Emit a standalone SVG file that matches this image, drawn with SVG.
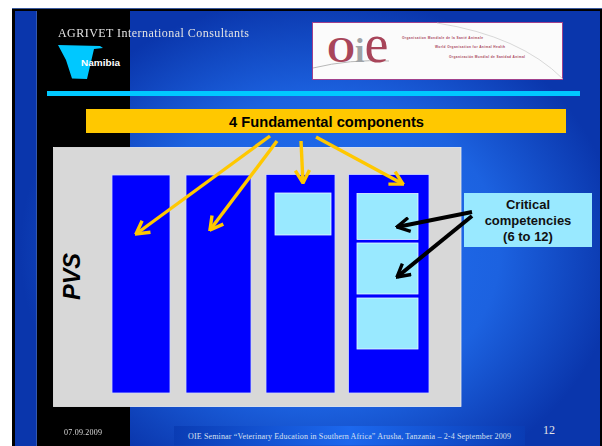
<svg xmlns="http://www.w3.org/2000/svg" width="602" height="446" viewBox="0 0 602 446">
<style>
.s{font-family:"Liberation Serif",serif}
.b{font-family:"Liberation Sans",Arial,sans-serif;font-weight:700}
.col{fill:#0000ff;stroke:#d0d8ff;stroke-width:.8}
.lt{fill:#99e9ff;stroke:#e8f8ff;stroke-width:.8}
.y{fill:none;stroke:#ffc800;stroke-width:3.4;marker-end:url(#ya)}
.k{fill:none;stroke:#000;stroke-width:4;marker-end:url(#ka)}
.o{font-family:"Liberation Sans",Arial,sans-serif;font-size:3.2px;fill:#a8455a;font-weight:700}
</style>
<defs>
<filter id="n" x="0" y="0" width="1" height="1"><feOffset dx="0" dy="0"/></filter>
<radialGradient id="bg" gradientUnits="userSpaceOnUse" cx="320" cy="250" r="300" gradientTransform="translate(320 250) scale(1 .85) translate(-320 -250)">
<stop offset="0" stop-color="#2272f6"/><stop offset=".6" stop-color="#1c62e0"/><stop offset="1" stop-color="#0a36ac"/>
</radialGradient>
<linearGradient id="fb" x1="0" x2="1" y1="0" y2="0">
<stop offset="0" stop-color="#0a3cb4"/><stop offset=".5" stop-color="#1c68ee"/><stop offset="1" stop-color="#0a3cb4"/>
</linearGradient>
<marker id="ya" viewBox="0 0 12 12" refX="11" refY="6" markerWidth="5" markerHeight="5" orient="auto"><path d="M2 1L11 6L2 11" fill="none" stroke="#ffc800" stroke-width="2.400"/></marker>
<marker id="ka" viewBox="0 0 12 12" refX="11" refY="6" markerWidth="4.200" markerHeight="4.200" orient="auto"><path d="M2 1L11 6L2 11" fill="none" stroke="#000" stroke-width="2.400"/></marker>
</defs>
<rect width="602" height="446" fill="#fff"/>
<rect x="12" y="8" width="590" height="438" fill="#000"/>
<rect x="12" y="8" width="590" height="1" fill="#3a5a9c"/>
<rect x="15" y="11" width="585" height="435" fill="url(#bg)"/>
<rect x="36.500" y="11" width="93.500" height="435" fill="#000"/>
<rect x="36" y="11" width="1" height="435" fill="#3358b0"/>

<g id="header">
<text class="s" x="58" y="37" font-size="12" fill="#e4e4e4" textLength="191" filter="url(#n)">AGRIVET International  Consultants</text>
<polygon points="58,45 100,46 103,48 94,49 87,79 72,78.500 66,60" fill="#00c8ff"/>
<text x="81" y="66" font-family="'Liberation Sans',sans-serif" font-weight="700" font-size="9.500" fill="#fff" textLength="39" lengthAdjust="spacingAndGlyphs">Namibia</text>
<rect x="47" y="91" width="533" height="5" fill="#00c8ff"/>
</g>

<g id="oie-logo">
<rect x="312.500" y="22.500" width="250" height="57" fill="#fbfbfb" stroke="#a0408c" stroke-width="1"/>
<path d="M437 23Q520 36 563 79" fill="none" stroke="#c8c8c8" stroke-width=".7"/>
<path d="M313 68Q350 59 389 61" fill="none" stroke="#b8b8b8" stroke-width="1"/>
<text class="s" x="327" y="62" fill="#a8455a"><tspan font-size="36" font-weight="700">O</tspan><tspan font-size="34" font-weight="700" fill="#a0a4a8">i</tspan><tspan font-size="54">e</tspan></text>
<text class="o" x="402" y="39" textLength="81">Organisation Mondiale de la Santé Animale</text>
<text class="o" x="435" y="48" textLength="70">World Organisation for Animal Health</text>
<text class="o" x="449" y="58" textLength="76">Organización Mundial de Sanidad Animal</text>
</g>

<g id="title">
<rect x="86" y="109" width="480" height="24" fill="#ffc800"/>
<text class="b" x="326.500" y="127" font-size="15" text-anchor="middle" fill="#000" textLength="195" lengthAdjust="spacingAndGlyphs">4 Fundamental components</text>
</g>

<g id="pvs">
<rect x="53.500" y="147.500" width="407.500" height="259" fill="#d8d8d8" stroke="#eee" stroke-width=".8"/>
<text class="b" x="0" y="0" font-size="23.500" font-style="italic" fill="#000" transform="translate(79.500 300) rotate(-90)">PVS</text>
</g>
<g id="col1"><rect class="col" x="112" y="175" width="58" height="218"/></g>
<g id="col2"><rect class="col" x="186" y="175" width="65" height="218"/></g>
<g id="col3"><rect class="col" x="266" y="174.500" width="69" height="218.500"/><rect class="lt" x="275" y="193" width="56" height="42"/></g>
<g id="col4"><rect class="col" x="348.500" y="174.500" width="80.500" height="218.500"/>
<rect class="lt" x="357" y="193.500" width="61" height="46"/>
<rect class="lt" x="357" y="243" width="61" height="51"/>
<rect class="lt" x="357" y="298" width="61" height="51"/></g>

<g id="callout">
<rect x="464" y="193" width="128" height="54" fill="#99e9ff"/>
<g class="b" font-size="13" text-anchor="middle" fill="#111">
<text x="528" y="209">Critical</text>
<text x="528" y="225">competencies</text>
<text x="528" y="241">(6 to 12)</text>
</g>
</g>

<g id="connectors">
<path class="y" d="M270 136L136 234"/>
<path class="y" d="M277 141L210 230"/>
<path class="y" d="M301 141L303 183"/>
<path class="y" d="M316 137L403 184"/>
<path class="k" d="M472 212L397 227"/>
<path class="k" d="M472 216L397 277"/>
</g>

<g id="footer">
<rect x="174" y="426" width="351" height="19.500" fill="url(#fb)"/>
<text class="s" x="64" y="435" font-size="8" fill="#ddd" textLength="38" filter="url(#n)">07.09.2009</text>
<text class="s" x="188" y="439" font-size="8" fill="#d8e0f0" textLength="323">OIE Seminar “Veterinary Education in Southern Africa”  Arusha, Tanzania – 2-4 September 2009</text>
<text class="s" x="543" y="434" font-size="12" fill="#e4e4e4">12</text>
</g>
</svg>
